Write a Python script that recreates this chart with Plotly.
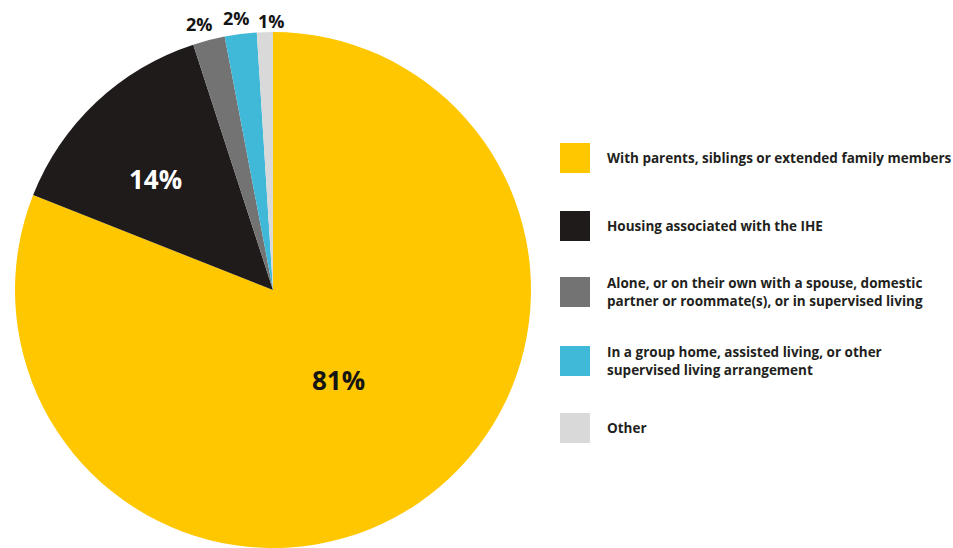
import math
import plotly.graph_objects as go

# Living arrangements of students (share of respondents)
categories = [
    "With parents, siblings or extended family members",
    "Housing associated with the IHE",
    "Alone, or on their own with a spouse, domestic<br>partner or roommate(s), or in supervised living",
    "In a group home, assisted living, or other<br>supervised living arrangement",
    "Other",
]
shares = [81, 14, 2, 2, 1]
colors = ["#FFC700", "#1F1B1B", "#737373", "#40B8D8", "#D9D9D9"]

# Percentage label styling per slice (radial placement as a fraction of the radius,
# plus a small pixel nudge)
label_colors = ["#141414", "#ffffff", "#141414", "#141414", "#141414"]
label_sizes = [26, 26, 18, 18, 18]
label_radius = [0.42, 0.63, 1.065, 1.065, 1.05]
label_nudge = [(5, 0), (-6, 7), (-5, 0), (-2, 1), (7, 2)]

W, H = 953, 548
FONT = "Open Sans"

# Pie placement in pixels
cx, cy, r = 273, 290, 258

fig = go.Figure(
    go.Pie(
        labels=categories,
        values=shares,
        sort=False,
        direction="clockwise",
        rotation=0,
        marker=dict(colors=colors, line=dict(width=0)),
        textinfo="none",
        domain=dict(x=[(cx - r) / W, (cx + r) / W], y=[(H - cy - r) / H, (H - cy + r) / H]),
        showlegend=False,
        hovertemplate="%{label}<br>%{value}%<extra></extra>",
    )
)

annotations = []

# Percentage labels placed at each slice's mid-angle
total = sum(shares)
cum = 0
for val, col, size, rf, (ndx, ndy) in zip(shares, label_colors, label_sizes, label_radius, label_nudge):
    theta = 2 * math.pi * (cum + val / 2) / total
    cum += val
    px = cx + rf * r * math.sin(theta) + ndx
    py = cy - rf * r * math.cos(theta) + ndy
    annotations.append(dict(
        xref="paper", yref="paper", x=px / W, y=1 - py / H,
        xanchor="center", yanchor="middle", showarrow=False,
        text=f"{val}%",
        font=dict(family=FONT, size=size, color=col, weight="bold"),
    ))

# Legend drawn as large swatches with wrapped text
legend_centers = [158, 226, 292, 361, 428]
sw = 30
x0 = 560
shapes = []
for cat, col, yc in zip(categories, colors, legend_centers):
    shapes.append(dict(
        type="rect", xref="paper", yref="paper",
        x0=x0 / W, x1=(x0 + sw) / W,
        y0=1 - (yc + sw / 2) / H, y1=1 - (yc - sw / 2) / H,
        fillcolor=col, line=dict(width=0),
    ))
    annotations.append(dict(
        xref="paper", yref="paper",
        x=605 / W, y=1 - yc / H,
        xanchor="left", yanchor="middle", align="left",
        text=cat, showarrow=False,
        font=dict(family=FONT, size=13.5, color="#231F20", weight="bold"),
    ))

fig.update_layout(
    width=W, height=H,
    margin=dict(l=0, r=0, t=0, b=0),
    paper_bgcolor="white",
    plot_bgcolor="white",
    shapes=shapes,
    annotations=annotations,
)

fig.write_html("out.html")
